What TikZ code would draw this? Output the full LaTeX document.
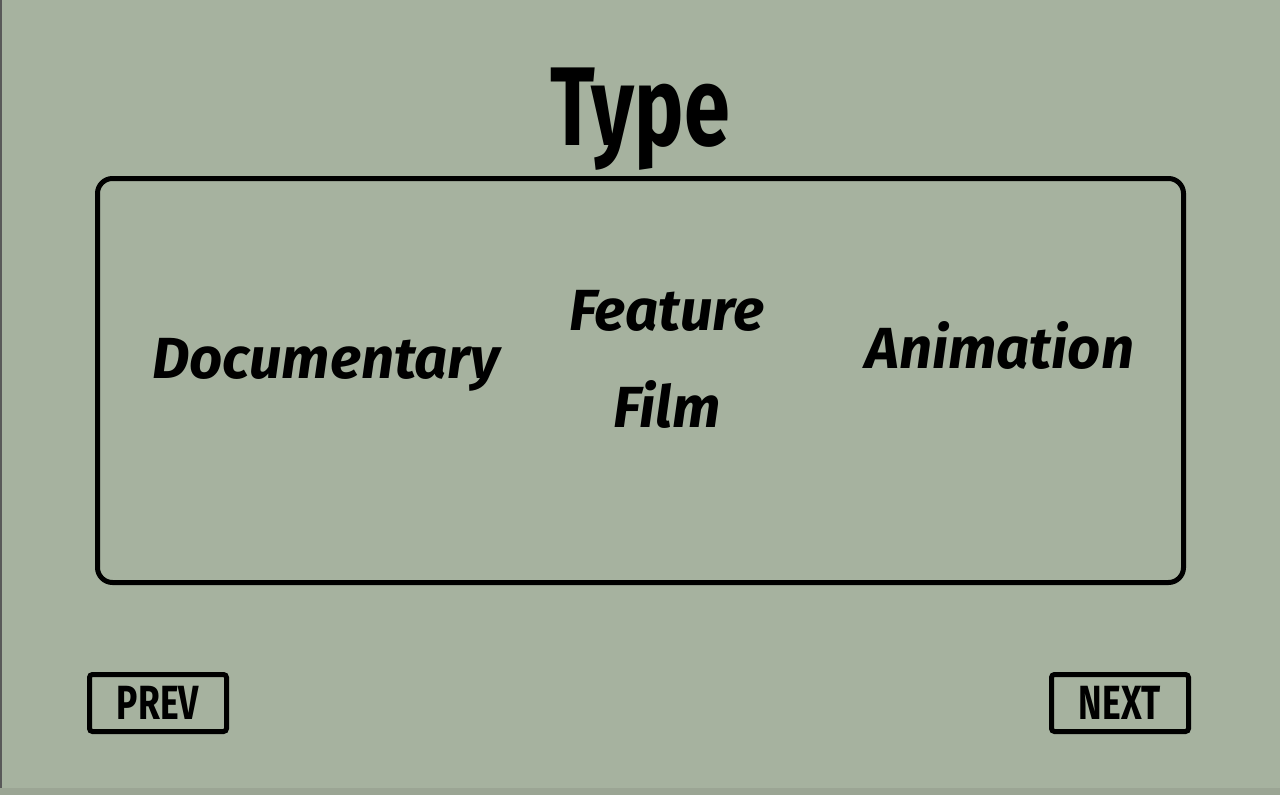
\documentclass[tikz,border=0pt]{standalone}
\usepackage{fontspec}
\setmainfont{Fira Sans}
\newfontfamily\narrowfont{Fira Sans}[FakeStretch=0.74]
\definecolor{sage}{HTML}{A6B29F}
\definecolor{sagedark}{HTML}{9BA594}
\begin{document}
\begin{tikzpicture}[x=1pt, y=-1pt]
	\pgfmathsetmacro{\lineW}{5}
	\tikzstyle{frame}=[draw=black, line width=\lineW pt, inner sep=0pt]
	\tikzstyle{panel}=[frame, rounded corners=15pt, minimum width=1086pt, minimum height=404pt]
	\tikzstyle{button}=[frame, rounded corners=3pt, minimum width=137pt, minimum height=57pt,
		font=\narrowfont\bfseries\fontsize{48}{52}\selectfont]
	\tikzstyle{choice}=[black, anchor=base, inner sep=0pt, font=\bfseries\itshape\fontsize{58}{66}\selectfont]
	\tikzstyle{title}=[black, anchor=base, inner sep=0pt, font=\narrowfont\bfseries\fontsize{112}{120}\selectfont]

	% background
	\fill[sage] (0,0) rectangle (1280,795);
	\fill[sagedark] (0,788) rectangle (1280,795);
	\fill[black!65] (0,0) rectangle (1.5,788);
	\useasboundingbox (0,0) rectangle (1280,795);

	\node[title] (Type) at (640, 145) {Type};

	\node[panel] (Panel) at (640.5, 380.5) {};

	\node[choice] (Doc) at (326, 378) {Documentary};
	\node[choice] (Feat) at (667, 330) {Feature};
	\node[choice] (Film) at (667, 427) {Film};
	\node[choice] (Anim) at (1000, 368) {Animation};

	\node[button] (Prev) at (158, 703) {PREV};
	\node[button] (Next) at (1120, 703) {NEXT};
\end{tikzpicture}
\end{document}
